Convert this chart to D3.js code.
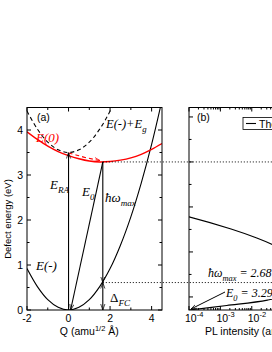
<!DOCTYPE html>
<html><head><meta charset="utf-8">
<script src="https://cdn.jsdelivr.net/npm/d3@7"></script>
<style>body{margin:0;background:#fff;}svg{display:block;}</style>
</head><body>
<script>
// ---- data ----
const qGrid = [-2,-1.5,-1,-0.5,0,0.5,1,1.5,2,2.5,3,3.5,4,4.5];
const eMinus = [0.92,0.52,0.23,0.06,0,0.06,0.23,0.52,0.92,1.44,2.07,2.82,3.68,4.66];
const eMinusPlusEg = [4.42,4.02,3.73,3.56,3.5,3.56,3.73,4.02,4.42,4.94,5.6,6.3,7.2,8.2];
const eZero = [3.96,3.79,3.64,3.52,3.43,3.36,3.31,3.29,3.30,3.33,3.38,3.46,3.57,3.70];
const relaxQ = [0,0.4,0.8,1.2,1.52];
const relaxE = [3.49,3.44,3.39,3.35,3.32];
const E0 = 3.29, hwMax = 2.68, dFC = 0.61, Q0 = 1.65, Eg = 3.5;
const plE = [2.5,2.3,2.07,1.8,1.6,1.4,1.2,1.0,0.8,0.61,0.4,0.22,0.1,0.0];
const plLogI = [-7.2,-5.4,-4.0,-2.66,-1.84,-1.17,-0.65,-0.29,-0.07,0,-0.47,-1.5,-2.8,-4.0];
const yTicks = [0,1,2,3,4];
const xTicksA = [-2,0,2,4];
const xTicksB = [1e-4,1e-3,1e-2,1e-1,1];

const W=272,H=352;
const svg=d3.select("body").append("svg").attr("width",W).attr("height",H);
const defs=svg.append("defs");
function marker(id,color){
  defs.append("marker").attr("id",id).attr("viewBox","0 0 10 10").attr("refX",10).attr("refY",5)
   .attr("markerWidth",6).attr("markerHeight",6).attr("orient","auto-start-reverse").attr("markerUnits","userSpaceOnUse")
   .append("path").attr("d","M0,1.5L10,5L0,8.5").attr("fill","none").attr("stroke",color).attr("stroke-width",1.2);
}
marker("ah","#000"); marker("ahr","#f00");

const y=d3.scaleLinear().domain([0,4.5]).range([310,107.5]);
const xa=d3.scaleLinear().domain([-2,4.5]).range([27,162]);
const xb=d3.scaleLog().domain([1e-4,2]).range([189,324]);

const sans="Liberation Sans, Arial, sans-serif", serif="Liberation Serif, Times New Roman, serif";

defs.append("clipPath").attr("id","ca").append("rect").attr("x",27).attr("y",107.5).attr("width",135).attr("height",202.5);
defs.append("clipPath").attr("id","cb").append("rect").attr("x",189).attr("y",107.5).attr("width",135).attr("height",202.5);

// ---------- Panel (a) ----------
const ga=svg.append("g");
const lineA=(xs,ys)=>d3.line().x((d,i)=>xa(xs[i])).y((d,i)=>y(ys[i])).curve(d3.curveCatmullRom)(xs);
const pa=ga.append("g").attr("clip-path","url(#ca)");
pa.append("path").attr("d",lineA(qGrid,eMinus)).attr("fill","none").attr("stroke","#000").attr("stroke-width",1.1);
pa.append("path").attr("d",lineA(qGrid,eMinusPlusEg)).attr("fill","none").attr("stroke","#000").attr("stroke-width",1.1).attr("stroke-dasharray","4,3");
pa.append("path").attr("d",lineA(qGrid,eZero)).attr("fill","none").attr("stroke","#f00").attr("stroke-width",1.4);
pa.append("path").attr("d",lineA(relaxQ,relaxE)).attr("fill","none").attr("stroke","#f00").attr("stroke-width",1.1).attr("stroke-dasharray","4,3").attr("marker-end","url(#ahr)");

svg.append("line").attr("x1",xa(Q0)).attr("x2",272).attr("y1",y(E0)).attr("y2",y(E0)).attr("stroke","#000").attr("stroke-dasharray","1,2");
svg.append("line").attr("x1",xa(Q0)).attr("x2",272).attr("y1",y(dFC)).attr("y2",y(dFC)).attr("stroke","#000").attr("stroke-dasharray","1,2");

function arrow(x1,y1,x2,y2,both){
  const l=ga.append("line").attr("x1",x1).attr("y1",y1).attr("x2",x2).attr("y2",y2).attr("stroke","#000").attr("stroke-width",1.1).attr("marker-end","url(#ah)");
  if(both) l.attr("marker-start","url(#ah)");
}
arrow(xa(0),y(0),xa(0),y(Eg));
arrow(xa(Q0),y(E0),xa(0.1),y(0.0));
arrow(xa(Q0),y(E0),xa(Q0),y(dFC));
arrow(xa(Q0),y(dFC),xa(Q0),y(0),true);

function axisBox(g,x0,x1){
  g.append("rect").attr("x",x0).attr("y",107.5).attr("width",x1-x0).attr("height",202.5).attr("fill","none").attr("stroke","#000").attr("stroke-width",1);
}
axisBox(ga,27,162);
const tk=ga.append("g").attr("stroke","#000").attr("stroke-width",1);
d3.range(0,4.51,0.5).forEach(v=>{
  const len = Number.isInteger(v)?4:2.5;
  tk.append("line").attr("x1",27).attr("x2",27+len).attr("y1",y(v)).attr("y2",y(v));
  tk.append("line").attr("x1",162).attr("x2",162-len).attr("y1",y(v)).attr("y2",y(v));
});
d3.range(-2,4.51,1).forEach(v=>{
  const len = (v%2===0)?4:2.5;
  tk.append("line").attr("x1",xa(v)).attr("x2",xa(v)).attr("y1",310).attr("y2",310-len);
  tk.append("line").attr("x1",xa(v)).attr("x2",xa(v)).attr("y1",107.5).attr("y2",107.5+len);
});
yTicks.forEach(v=>ga.append("text").attr("x",23).attr("y",y(v)+3.5).attr("text-anchor","end").attr("font-family",sans).attr("font-size",10.5).text(v));
xTicksA.forEach(v=>ga.append("text").attr("x",xa(v)).attr("y",321.5).attr("text-anchor","middle").attr("font-family",sans).attr("font-size",10.5).text(v));
ga.append("text").attr("transform","translate(10.5,219) rotate(-90)").attr("text-anchor","middle").attr("font-family",sans).attr("font-size",9.5).text("Defect energy (eV)");
const xl=ga.append("text").attr("x",xa(1.0)).attr("y",335).attr("text-anchor","middle").attr("font-family",sans).attr("font-size",10.5);
xl.append("tspan").text("Q (amu");
xl.append("tspan").attr("font-size",7.5).attr("dy",-4.5).text("1/2");
xl.append("tspan").attr("dy",4.5).text(" Å)");

function mlabel(g,x,yy,parts,color,fs){
  fs=fs||12.5;
  const t=g.append("text").attr("x",x).attr("y",yy).attr("font-family",serif).attr("font-size",fs).attr("font-style","italic").attr("fill",color||"#000");
  parts.forEach(p=>{
    const s=t.append("tspan").text(p.t);
    if(p.sub){s.attr("font-size",fs*0.7).attr("dy",3.5);}
    if(p.up){s.attr("dy",-3.5);}
    if(p.n) s.attr("font-style","normal");
  });
  return t;
}
ga.append("text").attr("x",37).attr("y",120.5).attr("font-family",sans).attr("font-size",10.5).text("(a)");
mlabel(ga,106,128,[{t:"E(-)+E"},{t:"g",sub:1}]);
mlabel(ga,36,142,[{t:"E(0)"}],"#f00",13);
mlabel(ga,50,189,[{t:"E"},{t:"RA",sub:1}],null,13);
mlabel(ga,82,196,[{t:"E"},{t:"0",sub:1}],null,13);
mlabel(ga,105,202,[{t:"ħω"},{t:"max",sub:1}],null,13);
mlabel(ga,110,302,[{t:"Δ",n:1},{t:"FC",sub:1}],null,13);
mlabel(ga,36,270,[{t:"E(-)"}],null,13);

// ---------- Panel (b) ----------
const gb=svg.append("g");
const pb=gb.append("g").attr("clip-path","url(#cb)");
pb.append("path").attr("d",d3.line().x((d,i)=>xb(Math.pow(10,plLogI[i]))).y((d,i)=>y(plE[i])).curve(d3.curveCatmullRom)(plE))
  .attr("fill","none").attr("stroke","#000").attr("stroke-width",1.1);
axisBox(gb,189,324);
const tb=gb.append("g").attr("stroke","#000").attr("stroke-width",1);
d3.range(-7,7).forEach(k=>{
  const v=E0-0.5*k; if(v<0||v>4.5) return;
  const len = (k%2===0)?4:2.5;
  tb.append("line").attr("x1",189).attr("x2",189+len).attr("y1",y(v)).attr("y2",y(v));
});
[-4,-3,-2,-1,0].forEach(p=>{
  for(let m=1;m<10;m++){
    const v=m*Math.pow(10,p); if(v>2) break;
    const len=m===1?4:2;
    tb.append("line").attr("x1",xb(v)).attr("x2",xb(v)).attr("y1",310).attr("y2",310-len);
    tb.append("line").attr("x1",xb(v)).attr("x2",xb(v)).attr("y1",107.5).attr("y2",107.5+len);
  }
});
xTicksB.forEach(v=>{
  const t=gb.append("text").attr("x",xb(v)-4).attr("y",321.5).attr("font-family",sans).attr("font-size",10.5);
  t.append("tspan").text("10");
  t.append("tspan").attr("font-size",7.5).attr("dy",-4.5).text(Math.round(Math.log10(v)));
});
gb.append("text").attr("x",205).attr("y",335).attr("font-family",sans).attr("font-size",10.5).text("PL intensity (arb. units)");
gb.append("text").attr("x",197).attr("y",120.5).attr("font-family",sans).attr("font-size",10.5).text("(b)");
gb.append("rect").attr("x",243).attr("y",117.5).attr("width",90).attr("height",12).attr("fill","#fff").attr("stroke","#000").attr("stroke-width",0.8);
gb.append("line").attr("x1",246).attr("x2",256).attr("y1",123.5).attr("y2",123.5).attr("stroke","#000").attr("stroke-width",1.1);
gb.append("text").attr("x",259).attr("y",127.5).attr("font-family",sans).attr("font-size",10.5).text("Theory");
mlabel(gb,208,277,[{t:"ħω"},{t:"max",sub:1},{t:" = 2.68 eV",up:1}],null,12);
mlabel(gb,226,297,[{t:"E"},{t:"0",sub:1},{t:" = 3.29 eV",up:1}],null,12);
gb.append("line").attr("x1",225).attr("y1",292).attr("x2",191).attr("y2",309).attr("stroke","#000").attr("stroke-width",1).attr("marker-end","url(#ah)");
</script>
</body></html>
